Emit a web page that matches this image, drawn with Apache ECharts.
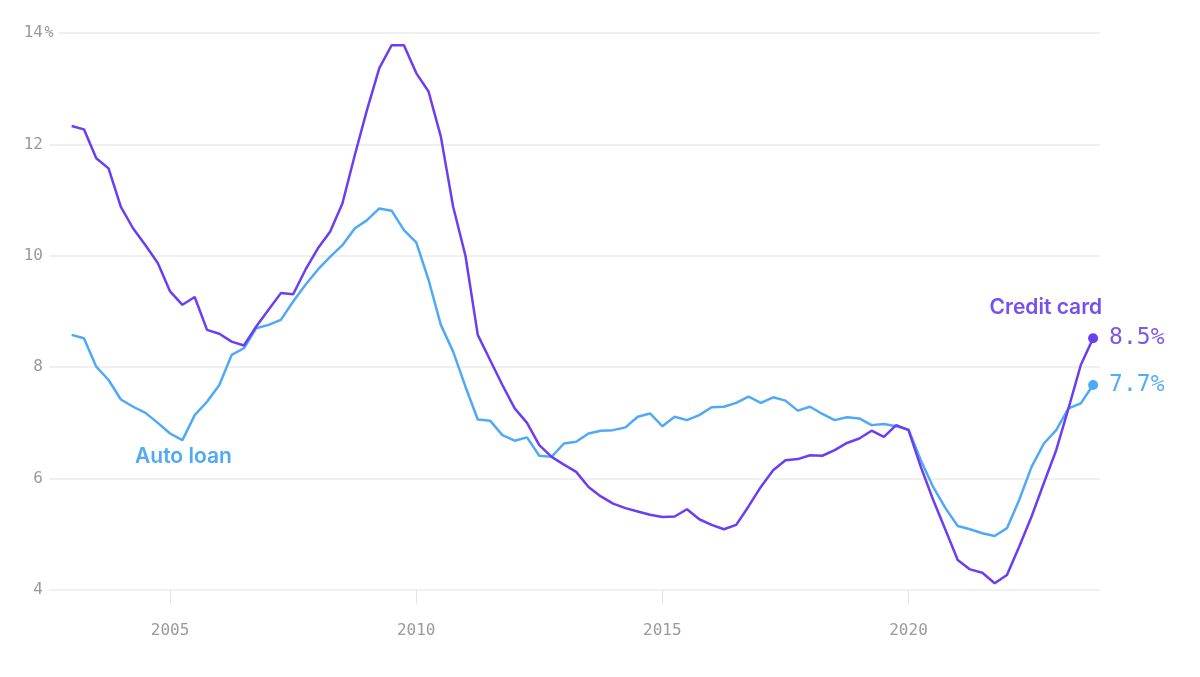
<!DOCTYPE html>
<html>
<head>
<meta charset="utf-8">
<script src="https://cdn.jsdelivr.net/npm/echarts@6/dist/echarts.min.js"></script>
<style>
html,body{margin:0;padding:0;background:#fff;}
#chart{width:1200px;height:677px;}
</style>
</head>
<body>
<div id="chart"></div>
<script>
// Quarterly delinquency-style rates, 2003 Q1 .. 2023 Q4
const startYear = 2003;
const creditCard = [
  12.33, 12.27, 11.75, 11.57, 10.88, 10.49, 10.19, 9.87,
  9.36, 9.12, 9.26, 8.67, 8.60, 8.46, 8.39, 8.73,
  9.03, 9.33, 9.31, 9.75, 10.13, 10.43, 10.94, 11.80,
  12.62, 13.37, 13.78, 13.78, 13.28, 12.95, 12.14, 10.88,
  10.00, 8.58, 8.13, 7.68, 7.26, 7.00, 6.60, 6.39,
  6.25, 6.12, 5.85, 5.68, 5.55, 5.47, 5.41, 5.35,
  5.31, 5.32, 5.45, 5.27, 5.17, 5.09, 5.17, 5.50,
  5.85, 6.15, 6.33, 6.35, 6.42, 6.41, 6.51, 6.64,
  6.72, 6.86, 6.75, 6.96, 6.87, 6.21, 5.62, 5.08,
  4.54, 4.37, 4.31, 4.12, 4.27, 4.78, 5.32, 5.92,
  6.51, 7.26, 8.04, 8.52
];
const autoLoan = [
  8.58, 8.52, 8.01, 7.77, 7.42, 7.29, 7.18, 7.00,
  6.81, 6.69, 7.14, 7.38, 7.68, 8.22, 8.34, 8.70,
  8.76, 8.85, 9.18, 9.48, 9.75, 9.98, 10.19, 10.49,
  10.64, 10.85, 10.81, 10.46, 10.24, 9.57, 8.76, 8.28,
  7.65, 7.06, 7.04, 6.78, 6.68, 6.74, 6.41, 6.39,
  6.63, 6.66, 6.81, 6.86, 6.87, 6.92, 7.11, 7.17,
  6.94, 7.11, 7.05, 7.14, 7.28, 7.29, 7.36, 7.47,
  7.36, 7.46, 7.40, 7.22, 7.29, 7.16, 7.05, 7.10,
  7.08, 6.96, 6.98, 6.94, 6.88, 6.33, 5.85, 5.47,
  5.15, 5.09, 5.02, 4.97, 5.11, 5.62, 6.21, 6.63,
  6.87, 7.26, 7.35, 7.68
];
const xTickYears = [2005, 2010, 2015, 2020];
const yTicks = [4, 6, 8, 10, 12, 14];
const seriesNames = ['Credit card', 'Auto loan'];
const autoLabelIndex = 9;

const PURPLE = '#6a3ef2';
const BLUE = '#4fa9f6';
const MONO = '"DejaVu Sans Mono", "Liberation Mono", monospace';
const SANS = 'Inter, "Noto Sans", sans-serif';

const times = creditCard.map((_, i) => startYear + i / 4);
function pairs(arr) { return arr.map((v, i) => [times[i], v]); }

function withEnd(arr, color, labelColor) {
  const d = pairs(arr);
  const last = d.length - 1;
  d[last] = {
    value: d[last],
    symbol: 'circle',
    symbolSize: 10,
    itemStyle: { color: color },
    label: {
      show: true,
      position: 'right',
      distance: 11,
      formatter: (p) => p.value[1].toFixed(1) + '%',
      fontFamily: MONO,
      fontSize: 23,
      color: labelColor
    }
  };
  return d;
}

const ccData = withEnd(creditCard, PURPLE, '#7a57f0');
const alData = withEnd(autoLoan, BLUE, '#55acf6');
const lastIdx = creditCard.length - 1;

const chart = echarts.init(document.getElementById('chart'), null, { renderer: 'canvas' });
chart.setOption({
  animation: false,
  backgroundColor: '#fff',
  grid: { left: 49, right: 100, top: 33, bottom: 87 },
  xAxis: {
    type: 'value',
    min: 2002.54,
    max: 2023.89,
    axisLine: { show: false },
    splitLine: { show: false },
    axisTick: { show: true, customValues: xTickYears, length: 14, lineStyle: { color: '#e4e4e4', width: 1 } },
    axisLabel: {
      customValues: xTickYears,
      margin: 33,
      fontFamily: MONO,
      fontSize: 16,
      color: '#9a9a9a',
      formatter: (v) => String(Math.round(v))
    }
  },
  yAxis: [
    {
      type: 'value', min: 4, max: 14, interval: 2, z: 0,
      axisLine: { show: false }, axisTick: { show: false },
      axisLabel: { show: false },
      splitLine: { show: true, lineStyle: { color: '#ebebeb', width: 1.5 } }
    },
    {
      type: 'value', min: 4, max: 14, interval: 2, position: 'left', z: 5,
      axisLine: { show: false }, axisTick: { show: false },
      splitLine: { show: false },
      axisLabel: {
        margin: -10,
        fontFamily: MONO,
        fontSize: 16,
        color: '#9a9a9a',
        formatter: (v) => v === yTicks[yTicks.length - 1] ? '{n|' + v + '}{p|%}' : '{n|' + v + '}{q| }',
        rich: {
          n: { fontFamily: MONO, fontSize: 16, color: '#9a9a9a' },
          p: { fontFamily: MONO, fontSize: 15, color: '#9a9a9a', width: 12, align: 'left', backgroundColor: '#fff', padding: [0, 4, 0, 0] },
          q: { fontFamily: MONO, fontSize: 16, width: 16 }
        }
      }
    }
  ],
  series: [
    {
      name: seriesNames[1],
      type: 'line',
      data: alData,
      symbol: 'none',
      showSymbol: true,
      lineStyle: { color: BLUE, width: 2.5 },
      itemStyle: { color: BLUE },
      z: 3,
      markPoint: {
        symbol: 'circle', symbolSize: 0,
        data: [{
          coord: [times[autoLabelIndex], autoLoan[autoLabelIndex]],
          label: {
            show: true, position: 'inside', offset: [1, 17],
            formatter: seriesNames[1],
            fontFamily: SANS, fontWeight: 600, fontSize: 21, color: BLUE
          }
        }]
      }
    },
    {
      name: seriesNames[0],
      type: 'line',
      data: ccData,
      symbol: 'none',
      showSymbol: true,
      lineStyle: { color: PURPLE, width: 2.5 },
      itemStyle: { color: PURPLE },
      z: 4,
      markPoint: {
        symbol: 'circle', symbolSize: 0,
        data: [{
          coord: [times[lastIdx], creditCard[lastIdx]],
          label: {
            show: true, position: 'inside', offset: [9, -31], align: 'right',
            formatter: seriesNames[0],
            fontFamily: SANS, fontWeight: 600, fontSize: 21, color: '#7750f0'
          }
        }]
      }
    }
  ]
});
</script>
</body>
</html>
